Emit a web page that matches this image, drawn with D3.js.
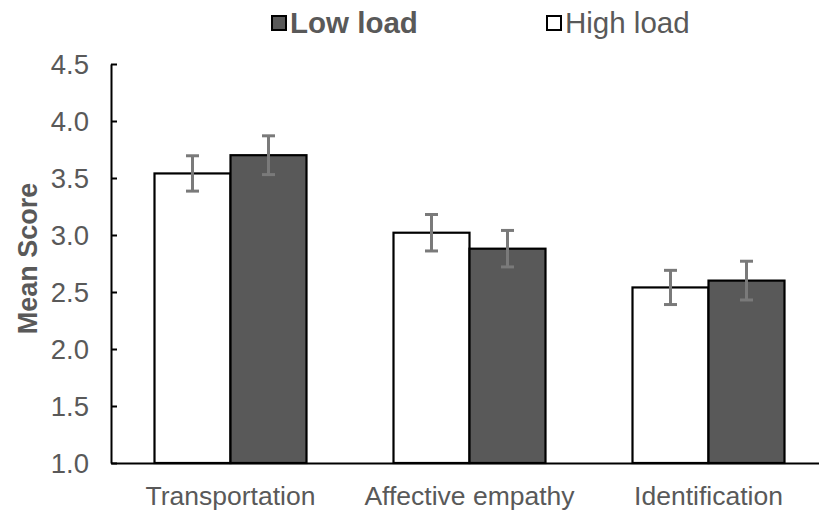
<!DOCTYPE html>
<html>
<head>
<meta charset="utf-8">
<script src="https://cdn.jsdelivr.net/npm/d3@7"></script>
<style>
  html, body { margin: 0; padding: 0; background: #fff; }
  svg { display: block; font-family: "Liberation Sans", Arial, sans-serif; }
</style>
</head>
<body>
<svg id="chart" width="819" height="510"></svg>
<script>
// Mean scores by measure and cognitive load condition, with standard errors
const categories = ["Transportation", "Affective empathy", "Identification"];
const seriesNames = ["High load", "Low load"];
const highLoad = [3.54, 3.02, 2.54];
const lowLoad = [3.70, 2.88, 2.60];
const highLoadErr = [0.155, 0.16, 0.15];
const lowLoadErr = [0.17, 0.16, 0.17];
const yTicks = [1.0, 1.5, 2.0, 2.5, 3.0, 3.5, 4.0, 4.5];

const svg = d3.select("#chart");
const textColor = "#595959";
const margin = { left: 111, top: 64, bottom: 463 };

const x = d3.scaleBand()
  .domain(categories)
  .range([margin.left, margin.left + 717])
  .paddingInner(0)
  .paddingOuter(0);

const inner = d3.scaleBand()
  .domain(seriesNames)
  .range([43.5, x.bandwidth() - 43.5]);

const y = d3.scaleLinear().domain([1.0, 4.5]).range([margin.bottom, margin.top]);

const fills = { "High load": "#ffffff", "Low load": "#595959" };

const rows = categories.map((c, i) => ({
  category: c,
  values: [
    { series: "High load", value: highLoad[i], err: highLoadErr[i] },
    { series: "Low load", value: lowLoad[i], err: lowLoadErr[i] }
  ]
}));

// bars
const groups = svg.append("g").selectAll("g")
  .data(rows).join("g")
  .attr("transform", d => `translate(${x(d.category)},0)`);

groups.selectAll("rect")
  .data(d => d.values).join("rect")
  .attr("x", d => inner(d.series))
  .attr("width", inner.bandwidth())
  .attr("y", d => y(d.value))
  .attr("height", d => y(1.0) - y(d.value))
  .attr("fill", d => fills[d.series])
  .attr("stroke", "#000")
  .attr("stroke-width", 2.2);

// error bars
const eb = groups.selectAll("g.err")
  .data(d => d.values).join("g")
  .attr("class", "err")
  .attr("stroke", "#7a7a7a")
  .attr("stroke-width", 3);
const cx = d => inner(d.series) + inner.bandwidth() / 2;
eb.append("line")
  .attr("x1", cx).attr("x2", cx)
  .attr("y1", d => y(d.value + d.err)).attr("y2", d => y(d.value - d.err));
eb.append("line")
  .attr("x1", d => cx(d) - 6.5).attr("x2", d => cx(d) + 6.5)
  .attr("y1", d => y(d.value + d.err)).attr("y2", d => y(d.value + d.err));
eb.append("line")
  .attr("x1", d => cx(d) - 6.5).attr("x2", d => cx(d) + 6.5)
  .attr("y1", d => y(d.value - d.err)).attr("y2", d => y(d.value - d.err));

// y axis
const yAxis = svg.append("g")
  .attr("transform", `translate(${margin.left},0)`)
  .call(d3.axisLeft(y).tickValues(yTicks).tickFormat(d3.format(".1f")).tickSizeInner(-6).tickSizeOuter(0).tickPadding(22));
yAxis.select(".domain").attr("stroke", "#000").attr("stroke-width", 2);
yAxis.selectAll(".tick line").attr("stroke", "#000").attr("stroke-width", 2);
yAxis.selectAll(".tick text")
  .attr("fill", textColor)
  .style("font-size", "27.5px")
  .attr("dy", "0.36em");

// x axis
const xAxis = svg.append("g")
  .attr("transform", `translate(0,${margin.bottom})`)
  .call(d3.axisBottom(x).tickSize(0).tickPadding(22));
xAxis.select(".domain").attr("stroke", "#000").attr("stroke-width", 2.2);
xAxis.selectAll(".tick text")
  .attr("fill", textColor)
  .style("font-size", "26.5px")
  .attr("dy", "0.74em");

// y title
svg.append("text")
  .attr("transform", `translate(37,${(margin.top + margin.bottom) / 2 - 5}) rotate(-90)`)
  .attr("text-anchor", "middle")
  .attr("fill", textColor)
  .style("font-size", "27px")
  .style("font-weight", "bold")
  .text("Mean Score");

// legend
const legendItems = [
  { name: "Low load", x: 271, bold: true },
  { name: "High load", x: 546, bold: false }
];
const lg = svg.append("g").selectAll("g").data(legendItems).join("g")
  .attr("transform", d => `translate(${d.x},0)`);
lg.append("rect")
  .attr("x", 1).attr("y", 16).attr("width", 14).attr("height", 14)
  .attr("fill", d => fills[d.name])
  .attr("stroke", "#000").attr("stroke-width", 2);
lg.append("text")
  .attr("x", 19).attr("y", 33)
  .attr("fill", textColor)
  .style("font-size", "29.5px")
  .style("font-weight", d => d.bold ? "bold" : "normal")
  .text(d => d.name);
</script>
</body>
</html>
